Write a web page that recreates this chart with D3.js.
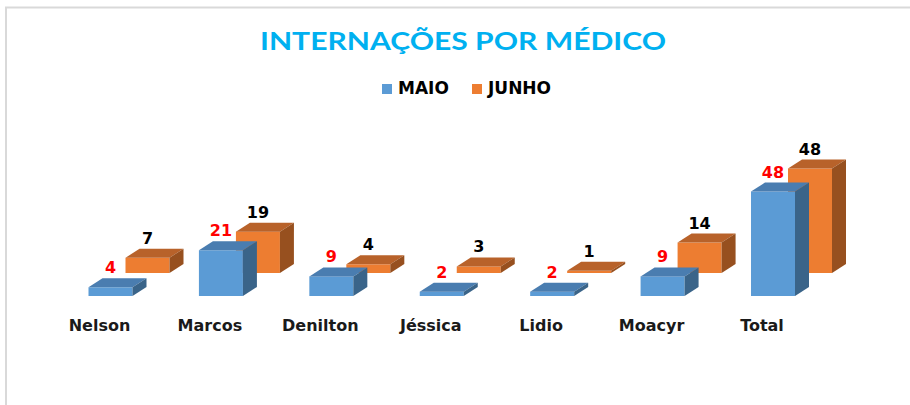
<!DOCTYPE html>
<html>
<head>
<meta charset="utf-8">
<script src="https://cdn.jsdelivr.net/npm/d3@7"></script>
<style>
  body { margin: 0; background: #fff; }
</style>
</head>
<body>
<div id="chart"></div>
<script>
(function(){

var categories = ["Nelson", "Marcos", "Denilton", "Jéssica", "Lidio", "Moacyr", "Total"];
var maio = [4, 21, 9, 2, 2, 9, 48];
var junho = [7, 19, 4, 3, 1, 14, 48];
var seriesNames = ["MAIO", "JUNHO"];

var width = 910, height = 405;

var svg = d3.select("#chart")
  .append("svg")
    .attr("width", width)
    .attr("height", height);

// frame (only top and left edges fall inside the picture)
svg.append("rect")
    .attr("x", 6).attr("y", 7.5)
    .attr("width", 1000).attr("height", 600)
    .attr("fill", "none")
    .attr("stroke", "#d9d9d9")
    .attr("stroke-width", 2);

// title
svg.append("text")
    .attr("x", 463).attr("y", 50)
    .attr("text-anchor", "middle")
    .attr("textLength", 406)
    .attr("lengthAdjust", "spacingAndGlyphs")
    .style("font-family", "Lato, 'Open Sans', sans-serif")
    .style("font-weight", 700)
    .style("font-size", "25px")
    .style("fill", "#00b0f0")
    .text("INTERNAÇÕES POR MÉDICO");

// series styling: front / top / side, depth offset, label colour
var series = [
  { name: seriesNames[0], values: maio,  front: "#5b9bd5", top: "#4a7db0", side: "#3a6489", ox: 0,  base: 296, label: "#ff0000" },
  { name: seriesNames[1], values: junho, front: "#ed7d31", top: "#b8622a", side: "#97501f", ox: 37, base: 273, label: "#000000" }
];

// legend
var legend = svg.append("g");
var legX = [382, 472];
series.forEach(function(s, i) {
  legend.append("rect")
      .attr("x", legX[i]).attr("y", 84)
      .attr("width", 10).attr("height", 10)
      .attr("fill", s.front);
  legend.append("text")
      .attr("x", legX[i] + 16).attr("y", 94)
      .style("font-family", "'DejaVu Sans', sans-serif")
      .style("font-weight", 700)
      .style("font-size", "17px")
      .style("fill", "#000")
      .text(s.name);
});

var x = d3.scalePoint()
    .domain(categories)
    .range([110.5, 773]);

var h = d3.scaleLinear()
    .domain([0, 48])
    .range([0, 104.5]);

var barW = 44, dx = 14, dy = 9;

// draw back series first
series.slice().reverse().forEach(function(s) {
  var g = svg.append("g");
  var bars = g.selectAll("g.bar")
    .data(s.values)
    .enter().append("g").attr("class", "bar");

  function x0(d, i) { return x(categories[i]) - barW / 2 + s.ox; }
  function top(d) { return s.base - h(d); }

  bars.append("rect")
      .attr("x", x0)
      .attr("y", top)
      .attr("width", barW)
      .attr("height", function(d) { return h(d); })
      .attr("fill", s.front);

  bars.append("path")
      .attr("d", function(d, i) {
        var a = x0(d, i), t = top(d);
        return "M" + a + "," + t + "L" + (a + dx) + "," + (t - dy) +
               "L" + (a + barW + dx) + "," + (t - dy) + "L" + (a + barW) + "," + t + "Z";
      })
      .attr("fill", s.top);

  bars.append("path")
      .attr("d", function(d, i) {
        var a = x0(d, i) + barW, t = top(d);
        return "M" + a + "," + t + "L" + (a + dx) + "," + (t - dy) +
               "L" + (a + dx) + "," + (s.base - dy) + "L" + a + "," + s.base + "Z";
      })
      .attr("fill", s.side);
});

// data labels
series.forEach(function(s) {
  svg.append("g").selectAll("text")
    .data(s.values)
    .enter().append("text")
      .attr("x", function(d, i) { return x(categories[i]) + s.ox; })
      .attr("y", function(d) { return s.base - h(d) - 14; })
      .attr("text-anchor", "middle")
      .style("font-family", "'DejaVu Sans', sans-serif")
      .style("font-weight", 700)
      .style("font-size", "16px")
      .style("fill", s.label)
      .text(function(d) { return d; });
});

// category labels
svg.append("g").selectAll("text")
  .data(categories)
  .enter().append("text")
    .attr("x", function(d) { return x(d) - 11; })
    .attr("y", 331)
    .attr("text-anchor", "middle")
    .style("font-family", "'DejaVu Sans', sans-serif")
    .style("font-weight", 700)
    .style("font-size", "16px")
    .style("fill", "#1a1a1a")
    .text(function(d) { return d; });

})();
</script>
</body>
</html>
